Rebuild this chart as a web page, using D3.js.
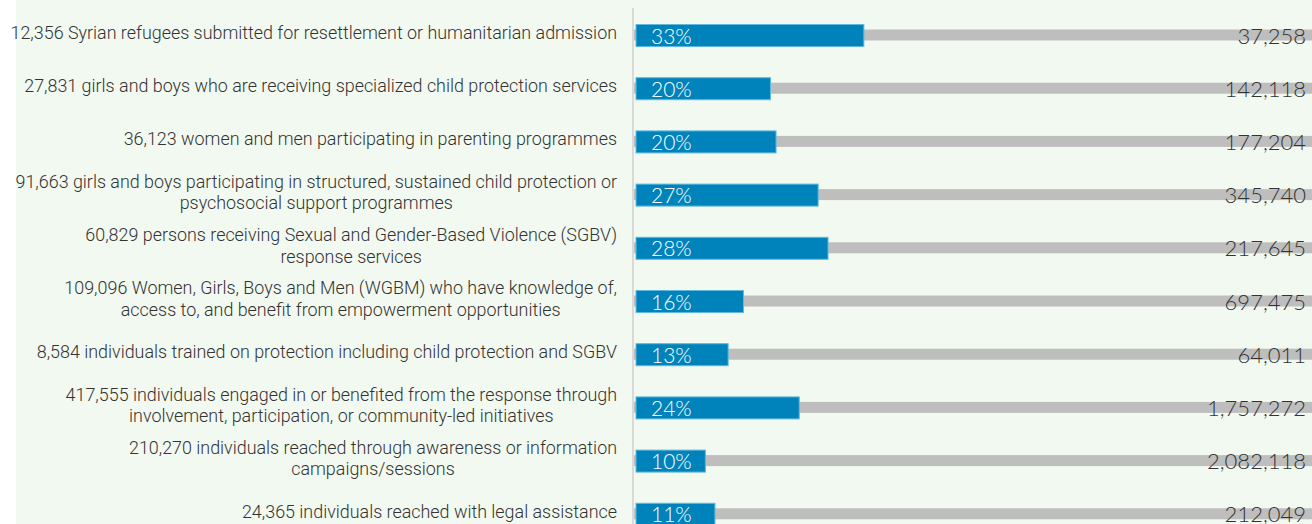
<!DOCTYPE html>
<html>
<head>
<meta charset="utf-8">
<script src="https://cdn.jsdelivr.net/npm/d3@7"></script>
<style>
  body { margin: 0; background: #ffffff; }
  svg { display: block; }
</style>
</head>
<body>
<svg id="chart" width="1312" height="524"></svg>
<script>
// achieved figures, targets and the wording of each indicator (split where the original wraps)
const achieved = [12356, 27831, 36123, 91663, 60829, 109096, 8584, 417555, 210270, 24365];
const targets = [37258, 142118, 177204, 345740, 217645, 697475, 64011, 1757272, 2082118, 212049];
const descriptions = [
  ["Syrian refugees submitted for resettlement or humanitarian admission"],
  ["girls and boys who are receiving specialized child protection services"],
  ["women and men participating in parenting programmes"],
  ["girls and boys participating in structured, sustained child protection or", "psychosocial support programmes"],
  ["persons receiving Sexual and Gender-Based Violence (SGBV)", "response services"],
  ["Women, Girls, Boys and Men (WGBM) who have knowledge of,", "access to, and benefit from empowerment opportunities"],
  ["individuals trained on protection including child protection and SGBV"],
  ["individuals engaged in or benefited from the response through", "involvement, participation, or community-led initiatives"],
  ["individuals reached through awareness or information", "campaigns/sessions"],
  ["individuals reached with legal assistance"]
];

const WIDTH = 1312;
const HEIGHT = 524;
const LABEL_RIGHT = 617;
const BLUE = "#0083bb";
const GREY = "#bebebe";

const fmt = d3.format(",");
const rows = achieved.map((a, i) => ({
  i,
  achieved: a,
  target: targets[i],
  share: a / targets[i],
  lines: descriptions[i].map((l, j) => (j === 0 ? fmt(a) + " " + l : l)),
}));

const svg = d3.select("#chart");

svg.append("rect")
  .attr("x", 16).attr("y", 0)
  .attr("width", WIDTH - 16).attr("height", HEIGHT)
  .attr("fill", "#f2f9f0");

const y = d3.scaleBand()
  .domain(rows.map((d) => d.i))
  .range([9.4, 9.4 + 53.2 * rows.length]);

const x = d3.scaleLinear().domain([0, 1]).range([636, 1323]);

// divider between labels and bars
svg.append("line")
  .attr("x1", 633).attr("x2", 633)
  .attr("y1", 8).attr("y2", HEIGHT)
  .attr("stroke", "#d9d9d9")
  .attr("stroke-width", 2);

const row = svg.selectAll("g.row")
  .data(rows)
  .enter()
  .append("g")
  .attr("class", "row")
  .attr("transform", (d) => `translate(0, ${y(d.i) + y.bandwidth() / 2})`);

// target track
row.append("rect")
  .attr("x", 634)
  .attr("y", -6.5)
  .attr("width", (d) => x(1) - 634)
  .attr("height", 11)
  .attr("fill", GREY);

// achieved share
row.append("rect")
  .attr("x", x(0))
  .attr("y", -11.5)
  .attr("width", (d) => x(d.share) - x(0))
  .attr("height", 22)
  .attr("fill", BLUE)
  .attr("stroke", "#5fb9de")
  .attr("stroke-width", 1);

row.append("text")
  .attr("x", x(0) + 15)
  .attr("y", 7.5)
  .attr("fill", "#ffffff")
  .style("font-family", "Lato, 'Open Sans', sans-serif")
  .style("font-weight", 300)
  .style("font-size", "21px")
  .text((d) => Math.round(d.share * 100) + "%");

row.append("text")
  .attr("x", 1306)
  .attr("y", 7.5)
  .attr("text-anchor", "end")
  .attr("fill", "#333333")
  .style("font-family", "Lato, 'Open Sans', sans-serif")
  .style("font-weight", 300)
  .style("font-size", "22px")
  .text((d) => fmt(d.target));

// labels: lines centred on each other, block right-aligned to the divider
const label = row.append("text")
  .attr("fill", "#333333")
  .style("font-family", "Roboto, sans-serif")
  .style("font-weight", 300)
  .style("font-size", "17.9px")
  .attr("text-anchor", "middle");

label.each(function (d) {
  const t = d3.select(this);
  const n = d.lines.length;
  const spans = d.lines.map((l, j) =>
    t.append("tspan")
      .attr("y", (j - (n - 1) / 2) * 21.5 + 3)
      .text(l)
  );
  const widest = d3.max(spans, (s) => s.node().getComputedTextLength());
  spans.forEach((s) => s.attr("x", LABEL_RIGHT - widest / 2));
});
</script>
</body>
</html>
